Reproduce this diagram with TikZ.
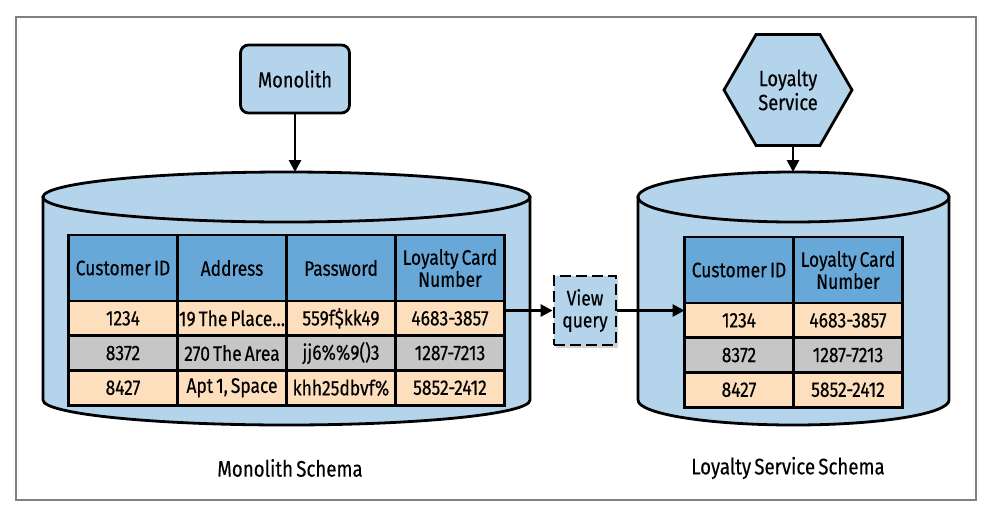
\documentclass[tikz,border=0pt]{standalone}
\usepackage{fontspec}
\setmainfont{Fira Sans}[FakeStretch=0.83,WordSpace=0.65,FakeBold=0.3]
\usetikzlibrary{shapes.geometric,arrows.meta,shadows,positioning}

\definecolor{dbblue}{RGB}{179,212,235}
\definecolor{headblue}{RGB}{104,168,216}
\definecolor{rowpeach}{RGB}{253,223,190}
\definecolor{rowgrey}{RGB}{198,198,198}
\definecolor{framegrey}{RGB}{128,128,128}

\begin{document}
\begin{tikzpicture}[x=1pt,y=-1pt]

\def\colw{109}
\def\rowh{34.7}

\tikzset{
        every node/.style={font=\fontsize{21}{22}\selectfont},
        line/.style={line width=2.8pt,draw=black},
        link/.style={line,-{Triangle[length=12pt,width=12pt]}},
        service/.style={line,fill=dbblue,rounded corners=8pt,minimum width=109,minimum height=68,font=\fontsize{22}{24}\selectfont},
        hexa/.style={line,fill=dbblue,regular polygon,regular polygon sides=6,minimum size=128,inner sep=0pt,align=center,font=\fontsize{22}{24}\selectfont},
        cell/.style={line,minimum width=\colw,minimum height=\rowh,inner sep=0pt,outer sep=0pt,align=center},
        head/.style={cell,fill=headblue,minimum height=66},
        view/.style={line,dash pattern=on 11pt off 5pt,fill=dbblue,minimum width=62,minimum height=69,inner sep=0pt,align=center,
                drop shadow={shadow xshift=2pt,shadow yshift=-3pt,opacity=0.35}},
        schema/.style={font=\fontsize{22.5}{24}\selectfont}
}

\useasboundingbox (0,0) rectangle (992,515);
\draw[framegrey,line width=1.5pt] (16,17) rectangle (976,500);

% services
\node[service] (M) at (295,79) {Monolith};
\node[hexa] (LS) at (788,90) {Loyalty\\Service};

% monolith schema db
\draw[line,fill=dbblue] (43,197) -- (43,400) arc[start angle=180,end angle=0,x radius=243.5,y radius=25] -- (530,197) -- cycle;
\draw[line,fill=dbblue] (286.5,197) ellipse[x radius=243.5,y radius=25];
\coordinate (MDB) at (295,172);

% loyalty schema db
\draw[line,fill=dbblue] (638,197) -- (638,400) arc[start angle=180,end angle=0,x radius=155.5,y radius=25] -- (949,197) -- cycle;
\draw[line,fill=dbblue] (793.5,197) ellipse[x radius=155.5,y radius=25];
\coordinate (LDB) at (793,172);

% monolith table
\foreach \t [count=\i from 0] in {Customer ID,Address,Password,{Loyalty Card\\Number}}
     \node[head] (LH\i) at (123+\i*\colw,268) {\t};
\foreach \a/\b/\p/\d/\f [count=\r] in {1234/19 The Place…/559f\$kk49/4683-3857/rowpeach,
        8372/270 The Area/jj6\%\%9()3/1287-7213/rowgrey,
        8427/{Apt 1, Space}/khh25dbvf\%/5852-2412/rowpeach} {
     \node[cell,fill=\f] (L\r0) at (123,301+\r*\rowh-\rowh/2) {\a};
     \node[cell,fill=\f] (L\r1) [right=0pt of L\r0] {\b};
     \node[cell,fill=\f] (L\r2) [right=0pt of L\r1] {\p};
     \node[cell,fill=\f] (L\r3) [right=0pt of L\r2] {\d};
}

% loyalty table
\node[head] (RH0) at (739,270) {Customer ID};
\node[head] (RH1) [right=0pt of RH0] {Loyalty Card\\Number};
\foreach \a/\d/\f [count=\r] in {1234/4683-3857/rowpeach,8372/1287-7213/rowgrey,8427/5852-2412/rowpeach} {
     \node[cell,fill=\f] (R\r0) at (739,303+\r*\rowh-\rowh/2) {\a};
     \node[cell,fill=\f] (R\r1) [right=0pt of R\r0] {\d};
}

\node[view] (VQ) at (585,310.5) {View\\query};

% links
\draw[link] (M) -- (MDB);
\draw[link] (LS.south -| LDB) -- (LDB);
\draw[link] (L13.east |- VQ.west) -- (VQ.west);
\draw[link] (VQ.east) -- (R10.west |- VQ.east);

% schema labels
\node[schema] (MS) at (290,468) {Monolith Schema};
\node[schema] (LSS) at (788,468) {Loyalty Service Schema};

\end{tikzpicture}
\end{document}
